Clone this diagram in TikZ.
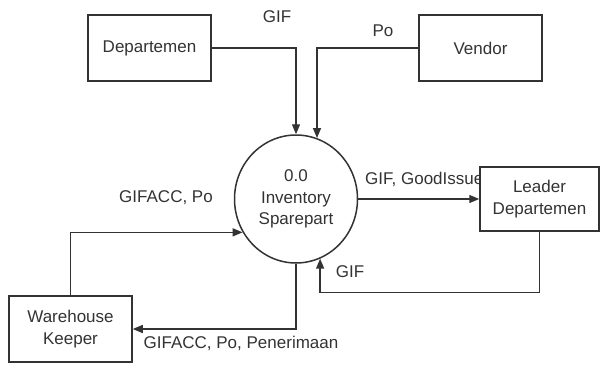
\documentclass[tikz,border=0pt]{standalone}
\usepackage{fontspec}
\setmainfont{Liberation Sans}
\usetikzlibrary{shapes.geometric,arrows.meta}
\definecolor{ink}{HTML}{333333}
\begin{document}
\begin{tikzpicture}[x=1pt,y=-1pt,
  font=\fontsize{17}{21.5}\selectfont,
  every node/.style={text=ink},
  entity/.style={draw=ink,line width=1.5pt,fill=white,minimum width=123pt,minimum height=66pt,inner sep=0pt,align=center},
  proc/.style={ellipse,draw=ink,line width=1.5pt,fill=white,minimum width=123pt,minimum height=128pt,inner sep=0pt,align=center},
  flow/.style={draw=ink,line width=1.4pt,-{Triangle[length=10pt,width=8pt]}},
  lbl/.style={inner sep=1pt}]
\useasboundingbox (0,0) rectangle (603,370);
% labels drawn first so boxes can cover them
\node[lbl,anchor=west] (l4) at (364,179) {GIF, GoodIssue};
\node[entity] (dep) at (149.5,48) {Departemen};
\node[entity] (ven) at (480.5,48) {Vendor};
\node[entity,minimum width=119pt,minimum height=64pt] (ld) at (539.5,199) {Leader\\Departemen};
\node[entity] (wh) at (70.5,329) {Warehouse\\Keeper};
\node[proc] (p) at (296,199) {0.0\\Inventory\\Sparepart};
\node[lbl] (l1) at (277,17) {GIF};
\node[lbl] (l2) at (383,31) {Po};
\node[lbl] (l3) at (166,198) {GIFACC, Po};
\node[lbl] (l5) at (350,272) {GIF};
\node[lbl] (l6) at (241,343) {GIFACC, Po, Penerimaan};
\draw[flow] (dep.east) -| (p.north);
\draw[flow] (ven.west) -| (p.71);
\draw[flow] (p.east) -- (ld.west);
\draw[flow] (ld.south) -- ++(0,61) -| (p.-68);
\draw[flow] (wh.north) |- (p.212);
\draw[flow] (p.south) |- (wh.east);
\end{tikzpicture}
\end{document}
